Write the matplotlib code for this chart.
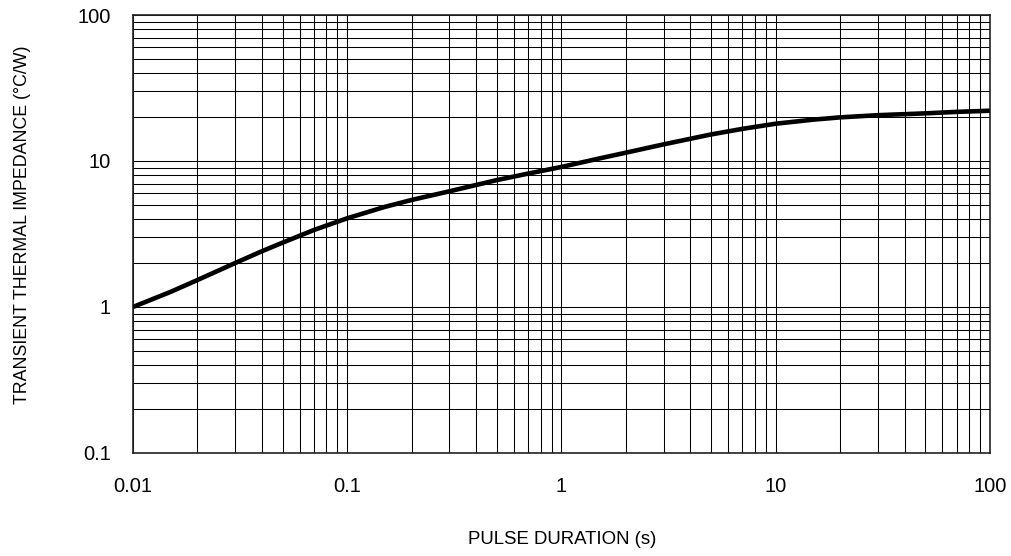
import numpy as np
import matplotlib
matplotlib.use("Agg")
import matplotlib.pyplot as plt
from matplotlib.ticker import LogLocator, FixedLocator, FixedFormatter, NullFormatter

plt.rcParams['font.family'] = ['Liberation Sans', 'DejaVu Sans']

# values (log-log)
pulse_s = [0.01, 0.015, 0.02, 0.03, 0.04, 0.05, 0.07, 0.1, 0.15, 0.2, 0.3, 0.5, 0.7,
           1, 1.5, 2, 3, 5, 7, 10, 15, 20, 30, 50, 70, 100]
zth_cw = [1.0, 1.27, 1.53, 2.0, 2.41, 2.76, 3.37, 4.05, 4.85, 5.41, 6.2, 7.4, 8.2,
          9.1, 10.4, 11.4, 13.0, 15.2, 16.6, 18.0, 19.2, 19.9, 20.6, 21.2, 21.7, 22.1]

x_ticks = [0.01, 0.1, 1, 10, 100]
x_labels = ['0.01', '0.1', '1', '10', '100']
y_ticks = [0.1, 1, 10, 100]
y_labels = ['0.1', '1', '10', '100']

fig = plt.figure(figsize=(10.12, 5.56), dpi=100)
ax = fig.add_axes([0.1314, 0.1853, 0.8466, 0.7877])

ax.set_xscale('log')
ax.set_yscale('log')
ax.set_xlim(0.01, 100)
ax.set_ylim(0.1, 100)

ax.plot(pulse_s, zth_cw, color='black', lw=3.3, solid_capstyle='butt',
        solid_joinstyle='round', zorder=3)

ax.xaxis.set_major_locator(FixedLocator(x_ticks))
ax.xaxis.set_major_formatter(FixedFormatter(x_labels))
ax.yaxis.set_major_locator(FixedLocator(y_ticks))
ax.yaxis.set_major_formatter(FixedFormatter(y_labels))
ax.xaxis.set_minor_locator(LogLocator(base=10, subs=np.arange(2, 10)))
ax.yaxis.set_minor_locator(LogLocator(base=10, subs=np.arange(2, 10)))
ax.xaxis.set_minor_formatter(NullFormatter())
ax.yaxis.set_minor_formatter(NullFormatter())

ax.grid(True, which='both', color='black', lw=0.75)
ax.tick_params(which='both', length=0)
ax.tick_params(axis='x', pad=17, labelsize=14.5)
ax.tick_params(axis='y', pad=16, labelsize=14.5)

for s in ax.spines.values():
    s.set_color('#222222')
    s.set_linewidth(1.2)

fig.text(0.5555, 0.029, 'PULSE DURATION (s)', ha='center', va='center', fontsize=13.4)
fig.text(0.022, 0.595, 'TRANSIENT THERMAL IMPEDANCE (°C/W)', ha='center', va='center',
         rotation=90, fontsize=12.8)

fig.savefig('out.png', dpi=100)
